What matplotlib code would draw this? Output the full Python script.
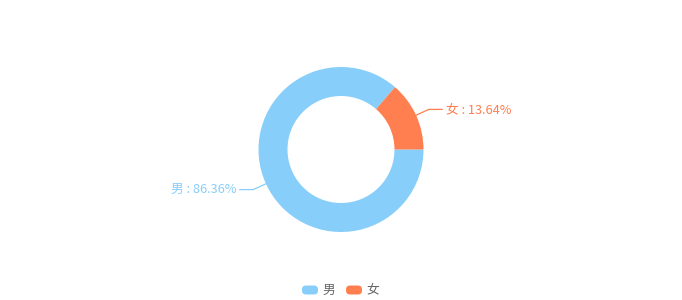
import numpy as np
import matplotlib
matplotlib.use("Agg")
import matplotlib.pyplot as plt
from matplotlib.patches import FancyBboxPatch

plt.rcParams['font.family'] = ['Noto Sans CJK SC', 'DejaVu Sans']

categories = ['男', '女']
values = [86.36, 13.64]
colors = ['#87cefa', '#ff7f50']

W, H = 682, 300
fig = plt.figure(figsize=(W / 100, H / 100), dpi=100)
ax = fig.add_axes([0, 0, 1, 1])

cx, cy = 341, H - 149.5
R, r_in = 82.5, 53.5
wedges, _ = ax.pie(values, colors=colors, startangle=0, counterclock=False,
                   radius=R, center=(cx, cy), frame=True,
                   wedgeprops=dict(width=R - r_in, edgecolor='none', linewidth=0))
ax.set_xlim(0, W)
ax.set_ylim(0, H)
ax.set_aspect('equal')
ax.axis('off')

for w, cat, val, col in zip(wedges, categories, values, colors):
    mid = np.deg2rad((w.theta1 + w.theta2) / 2)
    c, s = np.cos(mid), np.sin(mid)
    p0 = (cx + (R - 3) * c, cy + (R - 3) * s)
    p1 = (cx + (R + 14) * c, cy + (R + 14) * s)
    sign = 1 if c >= 0 else -1
    p2 = (p1[0] + sign * 14, p1[1])
    ax.plot([p0[0], p1[0], p2[0]], [p0[1], p1[1], p2[1]], color=col, lw=0.9,
            solid_capstyle='butt', zorder=0)
    ax.text(p2[0] + sign * 3, p2[1], f'{cat} : {val:.2f}%', color=col, fontsize=9.2,
            ha='left' if sign > 0 else 'right', va='center')

# legend
lx = 302
ly = H - 290
for cat, col in zip(categories, colors):
    ax.add_patch(FancyBboxPatch((lx, ly - 4.5), 16, 9,
                                boxstyle='round,pad=0,rounding_size=4',
                                fc=col, ec='none'))
    ax.text(lx + 20, ly, cat, color='#666666', fontsize=9.2, ha='left', va='center')
    lx += 44

fig.savefig('out.png', dpi=100)
